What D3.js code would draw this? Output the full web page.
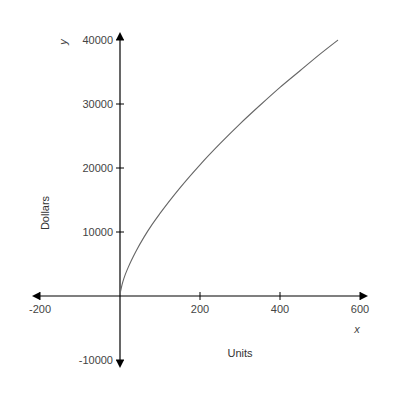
<!DOCTYPE html>
<html><head><meta charset="utf-8">
<script src="https://cdn.jsdelivr.net/npm/d3@7"></script>
<style>body{margin:0;background:#fff}svg{display:block}</style>
</head><body>
<script>
const xTicks = [-200, 200, 400, 600];
const yTicks = [-10000, 10000, 20000, 30000, 40000];
const unitsX = [1, 5, 10, 20, 40, 60, 80, 100, 150, 200, 250, 300, 350, 400, 450, 500, 545];
const dollarsY = [600, 1750, 2800, 4400, 7000, 9200, 11150, 12900, 16900, 20500, 23800, 26900, 29800, 32600, 35200, 37800, 40000];

const W = 400, H = 400;
const svg = d3.select("body").append("svg").attr("width", W).attr("height", H);
const x = d3.scaleLinear().domain([-200, 600]).range([40, 360]);
const y = d3.scaleLinear().domain([-10000, 40000]).range([360, 40]);
const font = "Liberation Sans, Arial, sans-serif";
const x0 = x(0), y0 = y(0);
const ext = 8;

// axes lines
svg.append("line").attr("x1", x(-200) - ext + 2).attr("x2", x(600) + ext - 2).attr("y1", y0).attr("y2", y0).attr("stroke", "#000").attr("stroke-width", 1.2);
svg.append("line").attr("x1", x0).attr("x2", x0).attr("y1", y(40000) - ext + 2).attr("y2", y(-10000) + ext - 2).attr("stroke", "#000").attr("stroke-width", 1.2);

// arrows
function tri(pts){ svg.append("path").attr("d", "M" + pts.map(p => p.join(",")).join("L") + "Z").attr("fill", "#000"); }
tri([[x(600) + ext, y0], [x(600), y0 - 4], [x(600), y0 + 4]]);
tri([[x(-200) - ext, y0], [x(-200), y0 - 4], [x(-200), y0 + 4]]);
tri([[x0, y(40000) - ext], [x0 - 4, y(40000)], [x0 + 4, y(40000)]]);
tri([[x0, y(-10000) + ext], [x0 - 4, y(-10000)], [x0 + 4, y(-10000)]]);

// x ticks
const gx = svg.append("g");
xTicks.forEach(t => {
  gx.append("line").attr("x1", x(t)).attr("x2", x(t)).attr("y1", y0 - 4).attr("y2", y0 + 4).attr("stroke", "#000").attr("stroke-width", 1);
  gx.append("text").attr("x", x(t)).attr("y", y0 + 17).attr("text-anchor", "middle")
    .attr("font-family", font).attr("font-size", 11).attr("fill", "#444").text(t);
});
// y ticks
const gy = svg.append("g");
yTicks.forEach(t => {
  gy.append("line").attr("x1", x0 - 4).attr("x2", x0 + 4).attr("y1", y(t)).attr("y2", y(t)).attr("stroke", "#000").attr("stroke-width", 1);
  gy.append("text").attr("x", x0 - 7).attr("y", y(t) + 4).attr("text-anchor", "end")
    .attr("font-family", font).attr("font-size", 11).attr("fill", "#444").text(t);
});

// curve
const line = d3.line().x((d, i) => x(d)).y((d, i) => y(dollarsY[i])).curve(d3.curveMonotoneX);
svg.append("path").datum(unitsX).attr("d", line).attr("fill", "none").attr("stroke", "#666").attr("stroke-width", 1.1);

// labels
svg.append("text").attr("x", 240).attr("y", 357).attr("text-anchor", "middle")
  .attr("font-family", font).attr("font-size", 11).attr("fill", "#333").text("Units");
svg.append("text").attr("transform", "translate(49,213) rotate(-90)").attr("text-anchor", "middle")
  .attr("font-family", font).attr("font-size", 11).attr("fill", "#333").text("Dollars");
svg.append("text").attr("x", 357).attr("y", 333).attr("text-anchor", "middle").attr("font-style", "italic")
  .attr("font-family", font).attr("font-size", 11).attr("fill", "#444").text("x");
svg.append("text").attr("transform", "translate(67,42) rotate(-90)").attr("text-anchor", "middle").attr("font-style", "italic")
  .attr("font-family", font).attr("font-size", 11).attr("fill", "#444").text("y");
</script>
</body></html>
